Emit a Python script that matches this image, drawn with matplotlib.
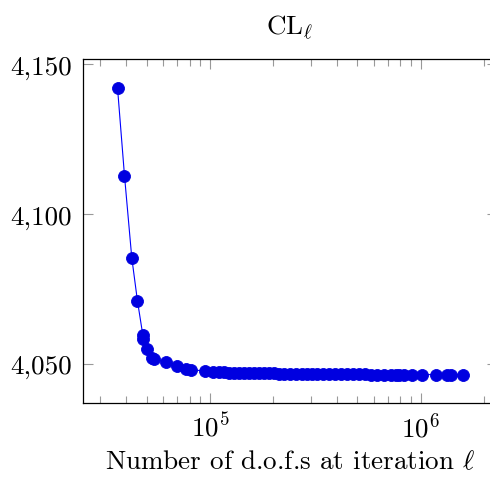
import numpy as np
import matplotlib
matplotlib.use('Agg')
import matplotlib.pyplot as plt
from matplotlib.ticker import FuncFormatter, LogLocator, NullFormatter, FixedLocator

plt.rcParams['mathtext.fontset'] = 'cm'
plt.rcParams['font.family'] = ['cmr10', 'DejaVu Serif']
plt.rcParams['axes.formatter.use_mathtext'] = True

dofs = [36360, 39250, 42500, 45220, 47930, 48300, 50460, 53300, 54230, 62110,
        70040, 76680, 81570, 94900,
        102700, 110300, 116500, 123100, 130000, 136800, 144500, 152600, 161200,
        170200, 179800, 189900, 200600, 211900, 223800, 238900, 255100, 272400,
        287700, 303900, 321000, 342700, 366000, 390600, 417200, 445600, 475700,
        507900, 542400, 579000, 618300, 667400, 720400, 760900, 788900, 833300,
        913500, 1019000, 1178000, 1339000, 1388000, 1578000]
cl = [4142.2, 4112.8, 4085.4, 4071.0, 4059.7, 4058.4, 4054.8, 4052.0, 4051.5, 4050.6,
      4049.4, 4048.3, 4048.0, 4047.6,
      4047.4, 4047.3, 4047.2, 4047.1, 4047.1, 4047.0, 4047.0,
      4046.9, 4046.9, 4046.9, 4046.8, 4046.8, 4046.8,
      4046.7, 4046.7, 4046.7, 4046.7,
      4046.6, 4046.6, 4046.6, 4046.6, 4046.6,
      4046.5, 4046.5, 4046.5, 4046.5, 4046.5, 4046.5, 4046.5,
      4046.4, 4046.4, 4046.4, 4046.4, 4046.4, 4046.4, 4046.4, 4046.4, 4046.4,
      4046.4, 4046.4, 4046.4, 4046.4]

yticks = [4050, 4100, 4150]
ytick_labels = ['4,050', '4,100', '4,150']
xtick_exponents = [5, 6]
title = r'CL$_{\ell}$'
xlabel = r'Number of d.o.f.s at iteration $\ell$'

FS = 19.5

fig = plt.figure(figsize=(4.9, 4.81), dpi=100)
ax = fig.add_axes([83 / 490, 76.7 / 481, 414 / 490, 344.3 / 481])
ax.plot(dofs, cl, '-', color='blue', lw=0.8, zorder=2)
ax.plot(dofs, cl, 'o', ms=8.6, mfc='#0000e0', mec='#0000e0', mew=0.6, zorder=3)
ax.set_xscale('log')

lx = np.log10(dofs)
sx = lx.max() - lx.min()
ax.set_xlim(10 ** (lx.min() - 0.1 * sx), 10 ** (lx.max() + 0.1 * sx))
sy = max(cl) - min(cl)
ax.set_ylim(min(cl) - 0.1 * sy, max(cl) + 0.1 * sy)

ax.xaxis.set_major_locator(FixedLocator([10.0 ** e for e in xtick_exponents]))
ax.xaxis.set_major_formatter(FuncFormatter(lambda v, p: r'$10^{%d}$' % round(np.log10(v))))
ax.xaxis.set_minor_locator(LogLocator(base=10, subs=np.arange(2, 10), numticks=20))
ax.xaxis.set_minor_formatter(NullFormatter())

ax.set_yticks(yticks)
ax.set_yticklabels(ytick_labels)

ax.tick_params(which='both', direction='in', top=True, right=True, color='0.6', width=0.8,
               labelsize=FS)
ax.tick_params(which='major', length=7.5)
ax.tick_params(which='minor', length=5)
ax.tick_params(axis='y', pad=8)
ax.tick_params(axis='x', pad=6)

for s in ax.spines.values():
    s.set_linewidth(0.9)
    s.set_color('black')

ax.set_title(title, fontsize=FS, pad=18)
ax.set_xlabel(xlabel, fontsize=FS, labelpad=6)

fig.savefig('out.png', dpi=100)
